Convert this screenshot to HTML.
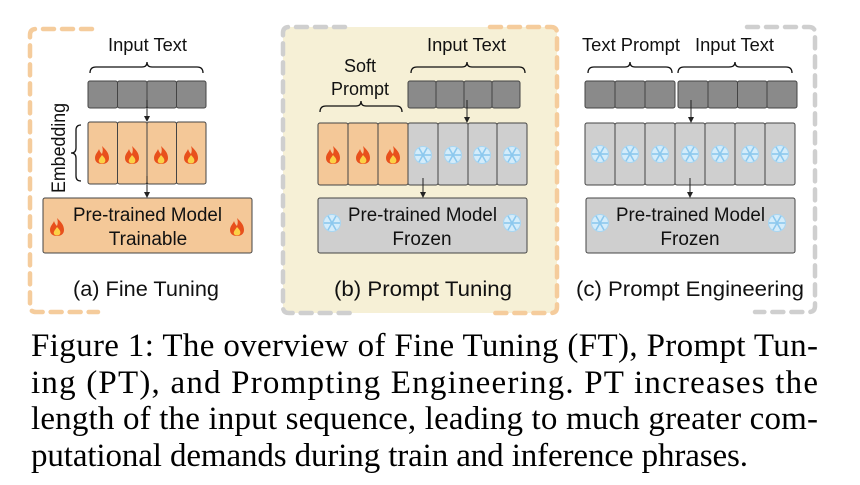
<!DOCTYPE html>
<html><head><meta charset="utf-8"><style>
body{margin:0;background:#fff;width:860px;height:485px;overflow:hidden}
svg{display:block}
.s{font-family:"Liberation Sans",sans-serif;fill:#111}
.c{font-family:"Liberation Serif",serif;font-size:33px;fill:#000}
</style></head><body>
<svg width="860" height="485" viewBox="0 0 860 485" xmlns="http://www.w3.org/2000/svg">
<defs>
<g id="fire">
<path d="M0,-9 C4,-5 7,-2 7,3 C7,7 4,9 0,9 C-4,9 -7,7 -7,3 C-7,-1 -4,-3 -3,-6 C-2,-3 -1,-2 0,-1 C1,-4 1,-6 0,-9Z" fill="#e8501c"/>
<path d="M0,0 C3,3 4,5 3,7 C2,9 -2,9 -3,7 C-4,5 -2,3 0,0Z" fill="#fbd046"/>
</g>
<g id="snow" stroke="#8cc8ee" stroke-width="1.6" fill="none">
<circle r="8.5" fill="#d4ecfa" stroke="#a8d6f2" stroke-width="1"/>
<line x1="-8" y1="0" x2="8" y2="0"/><line x1="-4" y1="-7" x2="4" y2="7"/><line x1="4" y1="-7" x2="-4" y2="7"/>
</g>
<marker id="ar" markerWidth="6" markerHeight="6" refX="5" refY="3" orient="auto"><path d="M0,0 L6,3 L0,6Z" fill="#222"/></marker>
</defs>

<rect x="283" y="27" width="274" height="286" rx="6" fill="#f6f0d6"/>
<g fill="none" stroke-width="4.5" stroke-dasharray="11 8" stroke-linecap="round">
<path d="M92,29 L36,29 Q30,29 30,35 L30,306 Q30,312 36,312 L98,312" stroke="#f5cc9c"/>
<path d="M345,27 L289,27 Q283,27 283,33 L283,307 Q283,313 289,313 L352,313" stroke="#cfcfcf"/>
<path d="M490,27 L551,27 Q557,27 557,33 L557,307 Q557,313 551,313 L494,313" stroke="#f5cc9c"/>
<path d="M747,27 L809,27 Q815,27 815,33 L815,306 Q815,312 809,312 L755,312" stroke="#cfcfcf"/>
</g>

<g fill="none" stroke="#111" stroke-width="1.3">
<path d="M90,73 Q90,67 96,67 L142,67 Q147,67 147,62 Q147,67 152,67 L197,67 Q203,67 203,73"/>
<path d="M411,73 Q411,67 417,67 L462,67 Q467,67 467,62 Q467,67 472,67 L519,67 Q525,67 525,73"/>
<path d="M320,112 Q320,106 326,106 L356,106 Q361,106 361,101 Q361,106 366,106 L396,106 Q402,106 402,112"/>
<path d="M588,73 Q588,67 594,67 L625,67 Q630,67 630,62 Q630,67 635,67 L666,67 Q672,67 672,73"/>
<path d="M678,73 Q678,67 684,67 L729,67 Q735,67 735,62 Q735,67 740,67 L786,67 Q792,67 792,73"/>
<path d="M81,125 Q76,125 76,130 L76,148 Q76,153 71,153 Q76,153 76,158 L76,176 Q76,181 81,181"/>
</g>

<g stroke="#444" stroke-width="1">
<rect x="88" y="81" width="29.5" height="27" rx="2" fill="#8a8a8a"/>
<rect x="117.5" y="81" width="29.5" height="27" rx="2" fill="#8a8a8a"/>
<rect x="147" y="81" width="29.5" height="27" rx="2" fill="#8a8a8a"/>
<rect x="176.5" y="81" width="29.5" height="27" rx="2" fill="#8a8a8a"/>
<rect x="88" y="122" width="29.5" height="62" rx="2" fill="#f4c898"/>
<rect x="117.5" y="122" width="29.5" height="62" rx="2" fill="#f4c898"/>
<rect x="147" y="122" width="29.5" height="62" rx="2" fill="#f4c898"/>
<rect x="176.5" y="122" width="29.5" height="62" rx="2" fill="#f4c898"/>
<rect x="43" y="198" width="209" height="55" rx="2" fill="#f4c898"/>
</g>
<use href="#fire" x="102" y="155"/><use href="#fire" x="132" y="155"/><use href="#fire" x="161" y="155"/><use href="#fire" x="191" y="155"/>
<use href="#fire" x="57" y="227"/><use href="#fire" x="237" y="227"/>
<g stroke="#222" stroke-width="1" marker-end="url(#ar)"><line x1="147" y1="100" x2="147" y2="121"/><line x1="147" y1="176" x2="147" y2="197"/></g>
<text class="s" x="108" y="51" font-size="18" textLength="79" lengthAdjust="spacingAndGlyphs">Input Text</text>
<text class="s" font-size="19" textLength="90" lengthAdjust="spacingAndGlyphs" transform="translate(65,193) rotate(-90)">Embedding</text>
<text class="s" x="73" y="221" font-size="19" textLength="149" lengthAdjust="spacingAndGlyphs">Pre-trained Model</text>
<text class="s" x="148" y="245" font-size="19" text-anchor="middle">Trainable</text>
<text class="s" x="73" y="296" font-size="21" textLength="146" lengthAdjust="spacingAndGlyphs">(a) Fine Tuning</text>

<g stroke="#444" stroke-width="1">
<rect x="408" y="81" width="28" height="27" rx="2" fill="#8a8a8a"/>
<rect x="436" y="81" width="28" height="27" rx="2" fill="#8a8a8a"/>
<rect x="464" y="81" width="28" height="27" rx="2" fill="#8a8a8a"/>
<rect x="492" y="81" width="28" height="27" rx="2" fill="#8a8a8a"/>
<rect x="318" y="123" width="30" height="62" rx="2" fill="#f4c898"/>
<rect x="348" y="123" width="30" height="62" rx="2" fill="#f4c898"/>
<rect x="378" y="123" width="30" height="62" rx="2" fill="#f4c898"/>
<rect x="408" y="123" width="30" height="62" rx="2" fill="#cfcfcf"/>
<rect x="438" y="123" width="30" height="62" rx="2" fill="#cfcfcf"/>
<rect x="468" y="123" width="29" height="62" rx="2" fill="#cfcfcf"/>
<rect x="497" y="123" width="30" height="62" rx="2" fill="#cfcfcf"/>
<rect x="318" y="198" width="209" height="55" rx="2" fill="#cfcfcf"/>
</g>
<use href="#fire" x="333" y="155"/><use href="#fire" x="363" y="155"/><use href="#fire" x="393" y="155"/>
<use href="#snow" x="423" y="155"/><use href="#snow" x="453" y="155"/><use href="#snow" x="482" y="155"/><use href="#snow" x="512" y="155"/>
<use href="#snow" x="332" y="223"/><use href="#snow" x="512" y="223"/>
<g stroke="#222" stroke-width="1" marker-end="url(#ar)"><line x1="467" y1="100" x2="467" y2="122"/><line x1="423" y1="178" x2="423" y2="197"/></g>
<text class="s" x="427" y="51" font-size="18" textLength="79" lengthAdjust="spacingAndGlyphs">Input Text</text>
<text class="s" x="360" y="72" font-size="18" text-anchor="middle">Soft</text>
<text class="s" x="360" y="95" font-size="18" text-anchor="middle">Prompt</text>
<text class="s" x="348" y="221" font-size="19" textLength="149" lengthAdjust="spacingAndGlyphs">Pre-trained Model</text>
<text class="s" x="422" y="245" font-size="19" text-anchor="middle">Frozen</text>
<text class="s" x="334" y="296" font-size="21" textLength="178" lengthAdjust="spacingAndGlyphs">(b) Prompt Tuning</text>

<g stroke="#444" stroke-width="1">
<rect x="585" y="81" width="30" height="27" rx="2" fill="#8a8a8a"/>
<rect x="615" y="81" width="30" height="27" rx="2" fill="#8a8a8a"/>
<rect x="645" y="81" width="30" height="27" rx="2" fill="#8a8a8a"/>
<rect x="678" y="81" width="30" height="27" rx="2" fill="#8a8a8a"/>
<rect x="708" y="81" width="29.5" height="27" rx="2" fill="#8a8a8a"/>
<rect x="737.5" y="81" width="29.5" height="27" rx="2" fill="#8a8a8a"/>
<rect x="767" y="81" width="30" height="27" rx="2" fill="#8a8a8a"/>
<rect x="585" y="123" width="30" height="62" rx="2" fill="#cfcfcf"/>
<rect x="615" y="123" width="30" height="62" rx="2" fill="#cfcfcf"/>
<rect x="645" y="123" width="30" height="62" rx="2" fill="#cfcfcf"/>
<rect x="675" y="123" width="30" height="62" rx="2" fill="#cfcfcf"/>
<rect x="705" y="123" width="30" height="62" rx="2" fill="#cfcfcf"/>
<rect x="735" y="123" width="30" height="62" rx="2" fill="#cfcfcf"/>
<rect x="765" y="123" width="30" height="62" rx="2" fill="#cfcfcf"/>
<rect x="586" y="198" width="209" height="55" rx="2" fill="#cfcfcf"/>
</g>
<use href="#snow" x="600" y="154"/><use href="#snow" x="630" y="154"/><use href="#snow" x="660" y="154"/><use href="#snow" x="690" y="154"/><use href="#snow" x="720" y="154"/><use href="#snow" x="750" y="154"/><use href="#snow" x="780" y="154"/>
<use href="#snow" x="600" y="223"/><use href="#snow" x="777" y="223"/>
<g stroke="#222" stroke-width="1" marker-end="url(#ar)"><line x1="691" y1="100" x2="691" y2="122"/><line x1="690" y1="178" x2="690" y2="197"/></g>
<text class="s" x="582" y="51" font-size="18" textLength="98" lengthAdjust="spacingAndGlyphs">Text Prompt</text>
<text class="s" x="695" y="51" font-size="18" textLength="79" lengthAdjust="spacingAndGlyphs">Input Text</text>
<text class="s" x="616" y="221" font-size="19" textLength="149" lengthAdjust="spacingAndGlyphs">Pre-trained Model</text>
<text class="s" x="690" y="245" font-size="19" text-anchor="middle">Frozen</text>
<text class="s" x="576" y="296" font-size="21" textLength="228" lengthAdjust="spacingAndGlyphs">(c) Prompt Engineering</text>

<text class="c" x="31" y="356" textLength="787" lengthAdjust="spacing">Figure 1:  The overview of Fine Tuning (FT), Prompt Tun-</text>
<text class="c" x="31" y="393" textLength="787" lengthAdjust="spacing">ing (PT), and Prompting Engineering.  PT increases the</text>
<text class="c" x="31" y="429" textLength="787" lengthAdjust="spacing">length of the input sequence, leading to much greater com-</text>
<text class="c" x="31" y="466" textLength="717" lengthAdjust="spacing">putational demands during train and inference phrases.</text>
</svg>
</body></html>
